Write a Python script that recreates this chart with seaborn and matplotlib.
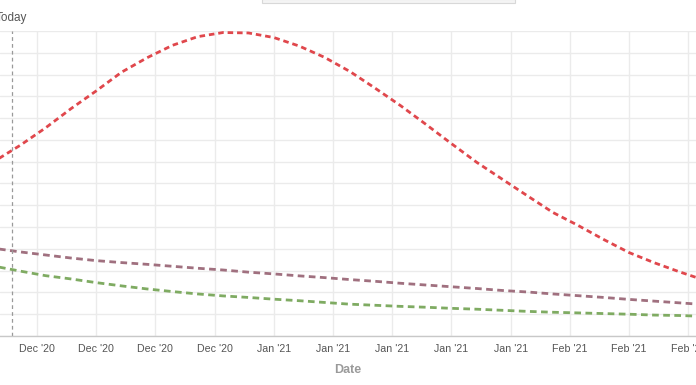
import pandas as pd
import numpy as np
import matplotlib.pyplot as plt
import matplotlib.dates as mdates
import seaborn as sns

# ------------------------------------------
# Data (every 3 days)
# ------------------------------------------

dates = pd.date_range("2020-12-01", periods=29, freq="3D")

red_values = [8.03, 8.75, 9.55, 10.43, 11.25, 12.11, 12.77, 13.34, 13.74, 13.93,
              13.91, 13.70, 13.31, 12.79, 12.14, 11.37, 10.57, 9.71, 8.83, 7.97,
              7.20, 6.43, 5.67, 5.07, 4.43, 3.83, 3.36, 2.94, 2.55]

purple_values = [4.02, 3.86, 3.72, 3.58, 3.46, 3.37, 3.29, 3.20, 3.11, 3.03,
                 2.93, 2.85, 2.76, 2.68, 2.59, 2.51, 2.42, 2.34, 2.26, 2.18,
                 2.09, 2.02, 1.93, 1.85, 1.77, 1.68, 1.60, 1.52, 1.44]

green_values = [3.20, 2.98, 2.77, 2.62, 2.45, 2.30, 2.16, 2.04, 1.93, 1.84,
                1.77, 1.69, 1.62, 1.54, 1.46, 1.41, 1.36, 1.32, 1.27, 1.23,
                1.18, 1.13, 1.09, 1.06, 1.03, 1.00, 0.96, 0.94, 0.90]

today = pd.Timestamp("2020-12-03")
tick_dates = pd.date_range("2020-12-06", periods=12, freq="7D")

df = pd.DataFrame({
    "Date": np.tile(dates, 3),
    "Value": red_values + purple_values + green_values,
    "Series": ["red"] * 29 + ["purple"] * 29 + ["green"] * 29,
})

palette = {"red": "#e0474c", "purple": "#a0707f", "green": "#7fab62"}
dashes = {"red": (2.0, 1.4), "purple": (2.4, 1.6), "green": (2.4, 1.6)}

# ------------------------------------------
# Plot
# ------------------------------------------

sns.set_style("white")
plt.rcParams["font.family"] = ["Liberation Sans", "DejaVu Sans"]

fig = plt.figure(figsize=(6.96, 3.85), dpi=100)
ax = fig.add_axes([0, 49 / 385, 1, 305 / 385])

sns.lineplot(
    data=df, x="Date", y="Value", hue="Series",
    palette=palette, style="Series", dashes=dashes,
    linewidth=2.0, legend=False, ax=ax
)

ax.set_xlim(pd.Timestamp("2020-12-01 15:00"), pd.Timestamp("2021-02-21 22:00"))
ax.set_ylim(0, 14)

ax.set_xticks(tick_dates)
ax.xaxis.set_major_formatter(mdates.DateFormatter("%b '%y"))
ax.set_yticks(range(0, 15))
ax.set_yticklabels([])
ax.tick_params(axis="x", length=3.6, width=1, color="#dcdcdc", pad=2.5,
               labelsize=7.7, labelcolor="#555555")
ax.tick_params(axis="y", length=0)
ax.grid(True, color="#ebebeb", linewidth=1)
ax.set_axisbelow(True)

for side in ["top", "left", "right"]:
    ax.spines[side].set_visible(False)
ax.spines["bottom"].set_color("#c8c8c8")
ax.spines["bottom"].set_linewidth(1)

ax.axvline(today, color="#999999", linewidth=0.9, linestyle=(0, (3, 2.5)))
fig.text(-0.006, 1 - 18 / 385, "Today", fontsize=8.5, color="#555555",
         ha="left", va="center")

ax.set_xlabel("Date", fontsize=9, fontweight="bold", color="#9a9a9a", labelpad=7)
ax.set_ylabel("")

# faint box at the top edge
fig.add_artist(plt.Rectangle((262 / 696, 1 - 3 / 385), 253 / 696, 4 / 385,
                             transform=fig.transFigure, facecolor="#f4f4f4",
                             edgecolor="#d8d8d8", linewidth=0.8))

fig.savefig("out.png", dpi=100)
